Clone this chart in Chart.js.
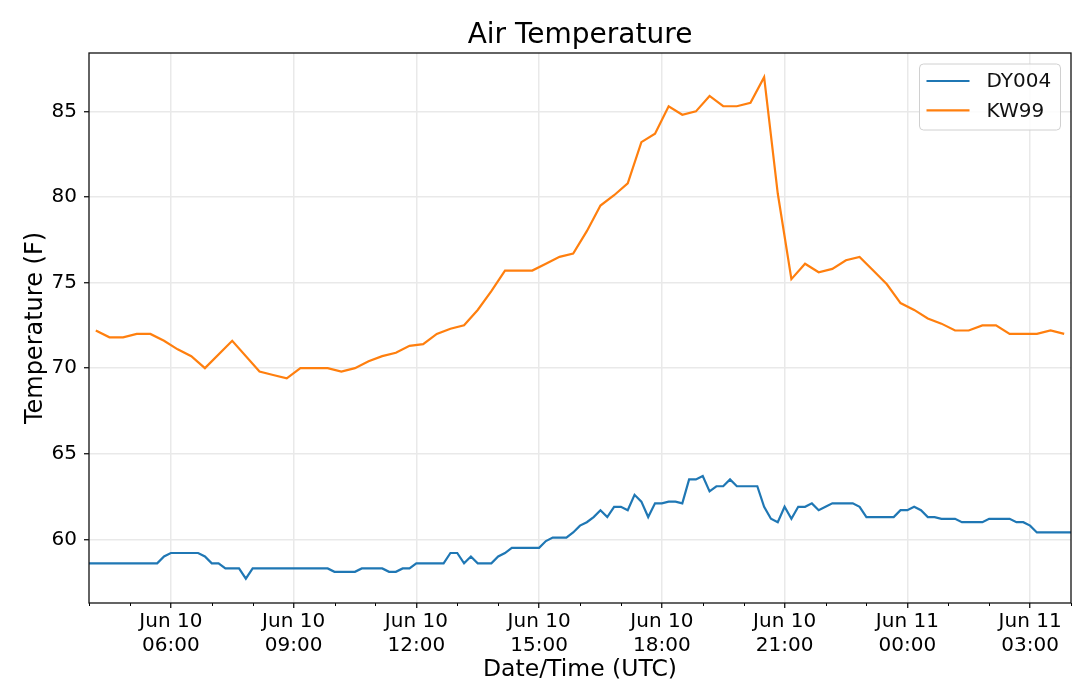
<!DOCTYPE html>
<html>
<head>
<meta charset="utf-8">
<title>Air Temperature</title>
<script src="https://cdn.jsdelivr.net/npm/chart.js@4.4.1/dist/chart.umd.min.js"></script>
<style>
  html, body { margin: 0; padding: 0; background: #fff; }
  #wrap { width: 1080px; height: 698px; }
</style>
</head>
<body>
<div id="wrap"><canvas id="airTemp" width="1080" height="698"></canvas></div>
<script>
// x axis is minutes after Jun 10 04:00 UTC
var axisStartHour = 4;
var axisSpanMinutes = 1440;
var tickDays = ['Jun 10', 'Jun 11'];
var yTicks = [60, 65, 70, 75, 80, 85];

// DY004 reports every 10 minutes starting at 04:00
var dyLabel = 'DY004';
var dyFirstMinute = 0;
var dyInterval = 10;
var dyValues = [
  58.6, 58.6, 58.6, 58.6, 58.6, 58.6, 58.6, 58.6, 58.6, 58.6, // 04:00
  58.6, 59.0, 59.2, 59.2, 59.2, 59.2, 59.2, 59.0, 58.6, 58.6, // 05:40
  58.3, 58.3, 58.3, 57.7, 58.3, 58.3, 58.3, 58.3, 58.3, 58.3, // 07:20
  58.3, 58.3, 58.3, 58.3, 58.3, 58.3, 58.1, 58.1, 58.1, 58.1, // 09:00
  58.3, 58.3, 58.3, 58.3, 58.1, 58.1, 58.3, 58.3, 58.6, 58.6, // 10:40
  58.6, 58.6, 58.6, 59.2, 59.2, 58.6, 59.0, 58.6, 58.6, 58.6, // 12:20
  59.0, 59.2, 59.5, 59.5, 59.5, 59.5, 59.5, 59.9, 60.1, 60.1, // 14:00
  60.1, 60.4, 60.8, 61.0, 61.3, 61.7, 61.3, 61.9, 61.9, 61.7, // 15:40
  62.6, 62.2, 61.3, 62.1, 62.1, 62.2, 62.2, 62.1, 63.5, 63.5, // 17:20
  63.7, 62.8, 63.1, 63.1, 63.5, 63.1, 63.1, 63.1, 63.1, 61.9, // 19:00
  61.2, 61.0, 61.9, 61.2, 61.9, 61.9, 62.1, 61.7, 61.9, 62.1, // 20:40
  62.1, 62.1, 62.1, 61.9, 61.3, 61.3, 61.3, 61.3, 61.3, 61.7, // 22:20
  61.7, 61.9, 61.7, 61.3, 61.3, 61.2, 61.2, 61.2, 61.0, 61.0, // 00:00
  61.0, 61.0, 61.2, 61.2, 61.2, 61.2, 61.0, 61.0, 60.8, 60.4, // 01:40
  60.4, 60.4, 60.4, 60.4, 60.4                                // 03:20
];

// KW99 reports every 20 minutes starting at 04:10, null = no report
var kwLabel = 'KW99';
var kwFirstMinute = 10;
var kwInterval = 20;
var kwValues = [
  72.2, 71.8, 71.8, 72.0, 72.0, 71.6, 71.1, 70.7, 70.0, null, // 04:10
  71.6, null, 69.8, 69.6, 69.4, 70.0, 70.0, 70.0, 69.8, 70.0, // 07:30
  70.4, 70.7, 70.9, 71.3, 71.4, 72.0, 72.3, 72.5, 73.4, 74.5, // 10:50
  75.7, 75.7, 75.7, 76.1, 76.5, 76.7, 78.0, 79.5, 80.1, 80.8, // 14:10
  83.2, 83.7, 85.3, 84.8, 85.0, 85.9, 85.3, 85.3, 85.5, 87.0, // 17:30
  80.2, 75.2, 76.1, 75.6, 75.8, 76.3, 76.5, 75.7, 74.9, 73.8, // 20:50
  73.4, 72.9, 72.6, 72.2, 72.2, 72.5, 72.5, 72.0, 72.0, 72.0, // 00:10
  72.2, 72.0                                                  // 03:30
];

var dyColor = '#1f77b4';
var kwColor = '#ff7f0e';
var fontFamily = '"DejaVu Sans", "Liberation Sans", sans-serif';

function toPoints(values, first, step) {
  return values.map(function(v, i) { return { x: first + i * step, y: v }; });
}

function isMajor(minutes) {
  return ((axisStartHour * 60 + minutes) % 180) === 0;
}

function pad2(n) { return (n < 10 ? '0' : '') + n; }

// frame, short minor ticks and the legend box
var framePlugin = {
  id: 'frame',
  afterDraw: function(chart) {
    var ctx = chart.ctx;
    var area = chart.chartArea;
    var xs = chart.scales.x;
    ctx.save();

    ctx.strokeStyle = '#000';
    ctx.lineWidth = 1;
    xs.ticks.forEach(function(t) {
      if (isMajor(t.value)) return;
      var px = Math.round(xs.getPixelForValue(t.value)) + 0.5;
      ctx.beginPath();
      ctx.moveTo(px, area.bottom);
      ctx.lineTo(px, area.bottom + 3);
      ctx.stroke();
    });

    ctx.lineWidth = 1.3;
    ctx.strokeStyle = '#111';
    ctx.strokeRect(area.left, area.top, area.right - area.left, area.bottom - area.top);

    // legend
    var bw = 141, bh = 66;
    var bx = area.right - 10.5 - bw, by = area.top + 11;
    ctx.beginPath();
    ctx.roundRect(bx, by, bw, bh, 4);
    ctx.fillStyle = 'rgba(255,255,255,0.85)';
    ctx.fill();
    ctx.strokeStyle = '#d0d0d0';
    ctx.lineWidth = 1;
    ctx.stroke();

    ctx.font = '20px ' + fontFamily;
    ctx.textBaseline = 'middle';
    ctx.textAlign = 'left';
    chart.data.datasets.forEach(function(ds, i) {
      var ly = by + 17 + i * 29.3;
      ctx.strokeStyle = ds.borderColor;
      ctx.lineWidth = 2.2;
      ctx.beginPath();
      ctx.moveTo(bx + 7, ly);
      ctx.lineTo(bx + 50, ly);
      ctx.stroke();
      ctx.fillStyle = '#111';
      ctx.fillText(ds.label, bx + 67, ly + 1);
    });
    ctx.restore();
  }
};

var airChart = new Chart(document.getElementById('airTemp'), {
  type: 'line',
  data: {
    datasets: [{
      label: dyLabel,
      data: toPoints(dyValues, dyFirstMinute, dyInterval),
      borderColor: dyColor,
      borderWidth: 2.2,
      pointRadius: 0,
      tension: 0,
      fill: false
    }, {
      label: kwLabel,
      data: toPoints(kwValues, kwFirstMinute, kwInterval),
      borderColor: kwColor,
      borderWidth: 2.2,
      pointRadius: 0,
      tension: 0,
      spanGaps: true,
      fill: false
    }]
  },
  options: {
    responsive: false,
    animation: false,
    devicePixelRatio: 1,
    layout: { padding: { left: 0, right: 9, top: 0, bottom: 0 } },
    plugins: {
      legend: { display: false },
      tooltip: { enabled: false },
      title: {
        display: true,
        fullSize: false,
        text: 'Air Temperature',
        color: '#000',
        font: { family: fontFamily, size: 28, weight: 'normal' },
        padding: { top: 19, bottom: 0.4 }
      }
    },
    scales: {
      x: {
        type: 'linear',
        min: 0,
        max: axisSpanMinutes,
        afterFit: function(scale) { scale.height = 95; },
        ticks: {
          stepSize: 60,
          autoSkip: false,
          maxRotation: 0,
          padding: 2,
          color: '#000',
          font: { family: fontFamily, size: 20 },
          callback: function(value) {
            if (!isMajor(value)) return '';
            var total = axisStartHour * 60 + value;
            var day = Math.floor(total / 1440);
            var hour = Math.floor((total % 1440) / 60);
            return [tickDays[day], pad2(hour) + ':00'];
          }
        },
        grid: {
          color: function(c) { return c.tick && isMajor(c.tick.value) ? '#e9e9e9' : 'rgba(0,0,0,0)'; },
          lineWidth: 1.5,
          tickLength: 5,
          tickColor: function(c) { return c.tick && isMajor(c.tick.value) ? '#000' : 'rgba(0,0,0,0)'; },
          tickWidth: 1.2
        },
        border: { display: false },
        title: {
          display: true,
          text: 'Date/Time (UTC)',
          color: '#000',
          font: { family: fontFamily, size: 23.5 },
          padding: { top: 0, bottom: 14 }
        }
      },
      y: {
        min: 56.28,
        max: 88.41,
        afterFit: function(scale) { scale.width = 89; },
        afterBuildTicks: function(scale) {
          scale.ticks = yTicks.map(function(v) { return { value: v }; });
        },
        ticks: {
          padding: 7,
          color: '#000',
          font: { family: fontFamily, size: 20 }
        },
        grid: {
          color: '#e9e9e9',
          lineWidth: 1.5,
          tickLength: 5,
          tickColor: '#000',
          tickWidth: 1.2
        },
        border: { display: false },
        title: {
          display: true,
          text: 'Temperature (F)',
          color: '#000',
          font: { family: fontFamily, size: 24 },
          padding: { top: 21, bottom: 0 }
        }
      }
    }
  },
  plugins: [framePlugin]
});
</script>
</body>
</html>
